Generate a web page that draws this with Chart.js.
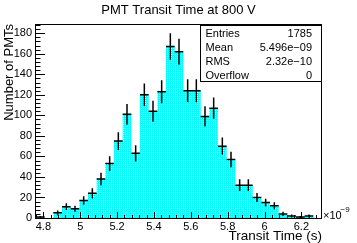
<!DOCTYPE html>
<html lang="en">
<head>
<meta charset="UTF-8">
<title>PMT Transit Time at 800 V</title>
<style>
  body { margin: 0; background: #fff; }
  #chart { display: block; }
</style>
</head>
<body>
<canvas id="chart" width="357" height="243"></canvas>
<script src="https://cdn.jsdelivr.net/npm/chart.js@4.4.1/dist/chart.umd.min.js"></script>
<script>
// histogram booking, x in ns (axis shows x10^-9 s)
const xLow = 4.76;
const xHigh = 6.312;
const nBins = 33;

// entries per bin
const counts = [1, 0, 5, 11, 9, 17, 24, 38, 53, 75, 101, 63, 120, 104, 123, 167, 162,
                124, 124, 99, 107, 70, 57, 32, 32, 20, 15, 12, 4, 2, 1, 2, 0];

const xTicks = [4.8, 5, 5.2, 5.4, 5.6, 5.8, 6, 6.2];
const yTicks = [0, 20, 40, 60, 80, 100, 120, 140, 160, 180];
const yMax = 189;

const statNames = ['Entries', 'Mean', 'RMS', 'Overflow'];
const statValues = ['1785', '5.496e\u221209', '2.32e\u221210', '0'];

const FONT = '"Liberation Sans", Arial, Helvetica, sans-serif';
Chart.defaults.font.family = FONT;
Chart.defaults.color = '#000';

const canvas = document.getElementById('chart');
const ctx = canvas.getContext('2d');

// ROOT-like dotted cyan fill: one white pixel in every 2x2 cell
function dotFill() {
    const p = document.createElement('canvas');
    p.width = 2; p.height = 2;
    const c = p.getContext('2d');
    c.fillStyle = '#00ffff';
    c.fillRect(0, 0, 2, 2);
    c.fillStyle = '#ffffff';
    c.fillRect(1, 0, 1, 1);
    return ctx.createPattern(p, 'repeat');
}

const binW = (xHigh - xLow) / nBins;

// step outline: left edge of each bin, closed at the upper edge
const histPts = counts.map((c, i) => ({ x: xLow + i * binW, y: c }));
histPts.push({ x: xHigh, y: 0 });

// error crosses: sqrt(N) vertically, full bin width horizontally
const errPts = [];
counts.forEach((c, i) => {
    if (!c) return;
    const lo = xLow + i * binW, hi = lo + binW, mid = lo + binW / 2, e = Math.sqrt(c);
    errPts.push({ x: mid, y: c - e }, { x: mid, y: c + e }, { x: mid, y: null },
                { x: lo, y: c }, { x: hi, y: c }, { x: hi, y: null });
});

// frame, inward ticks, stats box, exponent label
const rootStyle = {
    id: 'rootStyle',
    afterDraw(chart) {
        const { ctx, chartArea: a, scales: { x, y } } = chart;
        ctx.save();
        ctx.strokeStyle = '#000';
        ctx.lineWidth = 1;
        ctx.strokeRect(a.left - 0.5, a.top + 0.5, a.right - a.left, a.bottom - a.top);

        ctx.beginPath();
        const yStep = (yTicks[1] - yTicks[0]) / 5;
        for (let v = 0; v <= yMax; v += yStep) {
            const py = Math.round(y.getPixelForValue(v)) + 0.5;
            const major = yTicks.includes(Math.round(v));
            ctx.moveTo(a.left, py);
            ctx.lineTo(a.left + (major ? 9 : 4.5), py);
        }
        const xStep = (xTicks[1] - xTicks[0]) / 5;
        for (let k = -1; k < 40; k++) {
            const v = xTicks[0] + k * xStep;
            if (v < xLow - 1e-6 || v > xHigh) continue;
            const px = Math.round(x.getPixelForValue(v)) + 0.5;
            const major = k % 5 === 0;
            ctx.moveTo(px, a.bottom);
            ctx.lineTo(px, a.bottom - (major ? 6 : 3));
        }
        ctx.stroke();

        // stats box
        const bx = 200.5, by = 25.5, bw = a.right - 0.5 - bx, bh = 56;
        ctx.fillStyle = '#fff';
        ctx.fillRect(bx, by, bw, bh);
        ctx.strokeRect(bx, by, bw, bh);
        ctx.fillStyle = '#000';
        ctx.font = '11px ' + FONT;
        ctx.textBaseline = 'middle';
        statNames.forEach((n, i) => {
            const ty = 34 + i * 14;
            ctx.textAlign = 'left';
            ctx.fillText(n, 205.5, ty);
            ctx.textAlign = 'right';
            ctx.fillText(statValues[i], 312, ty);
        });

        // axis exponent
        ctx.textAlign = 'left';
        ctx.font = '11px ' + FONT;
        ctx.fillText('\u00d710', a.right + 1, 216);
        ctx.font = '8px ' + FONT;
        ctx.fillText('\u22129', a.right + 18.5, 209.5);
        ctx.restore();
    }
};

new Chart(ctx, {
    type: 'line',
    data: {
        datasets: [
            {
                data: histPts,
                order: 2,
                stepped: true,
                fill: 'origin',
                backgroundColor: dotFill(),
                borderColor: 'rgba(0,0,0,0)',
                borderWidth: 0,
                pointRadius: 0
            },
            {
                data: errPts,
                order: 1,
                borderColor: '#000',
                borderWidth: 1.5,
                pointRadius: 0,
                spanGaps: false,
                fill: false
            }
        ]
    },
    options: {
        responsive: false,
        animation: false,
        events: [],
        layout: { padding: 0 },
        plugins: {
            legend: { display: false },
            tooltip: { enabled: false },
            title: {
                display: true,
                text: 'PMT Transit Time at 800 V',
                font: { size: 13, weight: 'normal', lineHeight: 1.2 },
                padding: { top: 2.2, bottom: 6.2 }
            }
        },
        scales: {
            x: {
                type: 'linear',
                min: xLow,
                max: xHigh,
                afterBuildTicks: s => { s.ticks = xTicks.map(v => ({ value: v })); },
                afterFit: s => { s.height = 25; },
                grid: { display: false, drawTicks: false },
                border: { display: false },
                ticks: { padding: 2, font: { size: 11 }, maxRotation: 0, callback: v => String(v) },
                title: {
                    display: true,
                    text: 'Transit Time (s)',
                    align: 'end',
                    font: { size: 13.5, lineHeight: 1 },
                    padding: 0
                }
            },
            y: {
                min: 0,
                max: yMax,
                afterBuildTicks: s => { s.ticks = yTicks.map(v => ({ value: v })); },
                afterFit: s => { s.width = 36; },
                grid: { display: false, drawTicks: false },
                border: { display: false },
                ticks: { padding: 4, font: { size: 11 } },
                title: {
                    display: true,
                    text: 'Number of PMTs',
                    align: 'end',
                    font: { size: 13, lineHeight: 1 },
                    padding: { top: 2.5, bottom: 0 }
                }
            },
            // keeps the right margin free for the x10^-9 label
            yR: {
                position: 'right',
                display: true,
                afterFit: s => { s.width = 35; },
                grid: { display: false, drawTicks: false },
                border: { display: false },
                ticks: { display: false }
            }
        }
    },
    plugins: [rootStyle]
});
</script>
</body>
</html>
